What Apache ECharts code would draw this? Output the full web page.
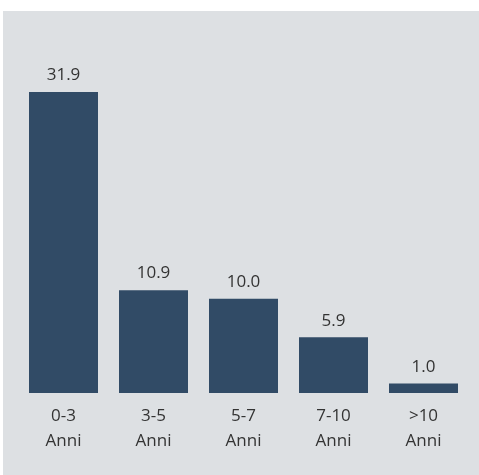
<!DOCTYPE html>
<html>
<head>
<meta charset="utf-8">
<script src="https://cdn.jsdelivr.net/npm/echarts@6/dist/echarts.min.js"></script>
<style>
  html, body { margin: 0; padding: 0; background: #ffffff; width: 479px; height: 475px; overflow: hidden; }
  #chart { position: absolute; left: 3px; top: 11px; width: 476px; height: 464px; background: #dde0e3; }
</style>
</head>
<body>
<div id="chart"></div>
<script>
const categories = ['0-3\nAnni', '3-5\nAnni', '5-7\nAnni', '7-10\nAnni', '>10\nAnni'];
const values = [31.9, 10.9, 10.0, 5.9, 1.0];

const chart = echarts.init(document.getElementById('chart'));
chart.setOption({
  backgroundColor: 'transparent',
  animation: false,
  grid: { left: 15.5, right: 10.5, top: 81, bottom: 82 },
  xAxis: {
    type: 'category',
    data: categories,
    axisLine: { show: false },
    axisTick: { show: false },
    axisLabel: {
      color: '#333333',
      fontFamily: 'Open Sans',
      fontSize: 17,
      lineHeight: 25,
      margin: 11
    }
  },
  yAxis: {
    type: 'value',
    min: 0,
    max: 'dataMax',
    show: false,
    splitLine: { show: false }
  },
  series: [{
    type: 'bar',
    data: values,
    barWidth: 69,
    itemStyle: { color: '#314b66' },
    label: {
      show: true,
      position: 'top',
      distance: 8,
      color: '#333333',
      fontFamily: 'Open Sans',
      fontSize: 17,
      formatter: p => p.value.toFixed(1)
    }
  }]
});
</script>
</body>
</html>
